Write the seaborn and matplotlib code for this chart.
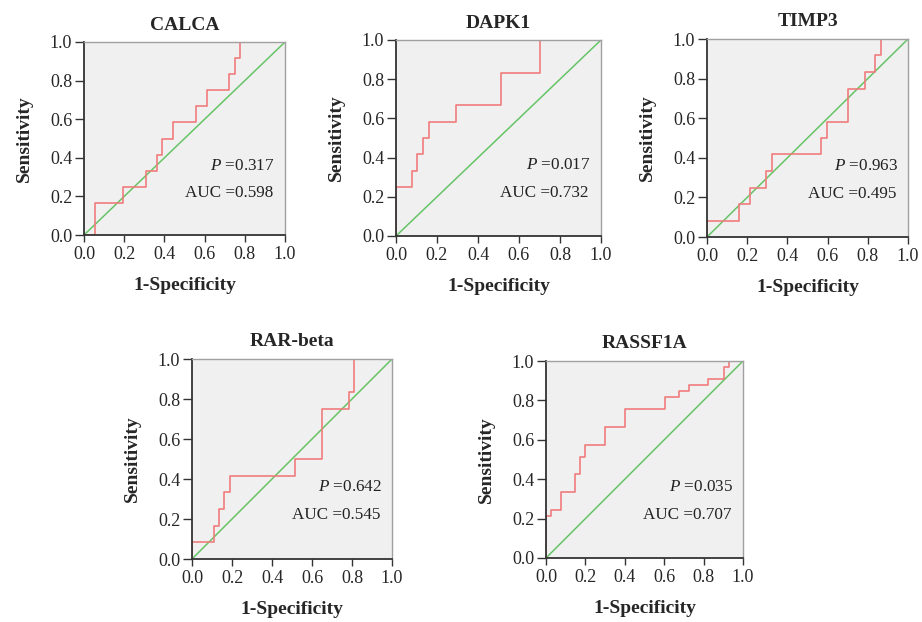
import matplotlib
matplotlib.use("Agg")
import matplotlib.pyplot as plt
import seaborn as sns

# ROC step points: x = 1-specificity where sensitivity jumps, y = sensitivity after the jump
genes = ["CALCA", "DAPK1", "TIMP3", "RAR-beta", "RASSF1A"]

calca_fpr = [0.0, 0.056, 0.194, 0.306, 0.361, 0.389, 0.444, 0.556, 0.611, 0.722, 0.750, 0.778, 1.0]
calca_tpr = [0.0, 0.167, 0.250, 0.333, 0.417, 0.500, 0.583, 0.667, 0.750, 0.833, 0.917, 1.000, 1.0]

dapk1_fpr = [0.0, 0.0, 0.078, 0.104, 0.134, 0.160, 0.295, 0.510, 0.703, 1.0]
dapk1_tpr = [0.0, 0.250, 0.333, 0.417, 0.500, 0.583, 0.667, 0.833, 1.000, 1.0]

timp3_fpr = [0.0, 0.0, 0.161, 0.216, 0.295, 0.323, 0.567, 0.595, 0.703, 0.784, 0.837, 0.866, 1.0]
timp3_tpr = [0.0, 0.083, 0.167, 0.250, 0.333, 0.417, 0.500, 0.583, 0.750, 0.833, 0.917, 1.000, 1.0]

rarb_fpr = [0.0, 0.0, 0.110, 0.135, 0.162, 0.190, 0.513, 0.648, 0.783, 0.812, 1.0]
rarb_tpr = [0.0, 0.083, 0.167, 0.250, 0.333, 0.417, 0.500, 0.750, 0.833, 1.000, 1.0]

rassf1a_fpr = [0.0, 0.0, 0.024, 0.075, 0.146, 0.171, 0.198, 0.298, 0.400, 0.602, 0.675,
               0.725, 0.824, 0.902, 0.927, 1.0]
rassf1a_tpr = [0.0, 0.212, 0.242, 0.333, 0.424, 0.515, 0.576, 0.667, 0.758, 0.818, 0.848,
               0.879, 0.909, 0.970, 1.000, 1.0]

p_values = ["0.317", "0.017", "0.963", "0.642", "0.035"]
auc_values = ["0.598", "0.732", "0.495", "0.545", "0.707"]

fprs = [calca_fpr, dapk1_fpr, timp3_fpr, rarb_fpr, rassf1a_fpr]
tprs = [calca_tpr, dapk1_tpr, timp3_tpr, rarb_tpr, rassf1a_tpr]

sns.set_style("ticks")
plt.rcParams["font.family"] = ["Liberation Serif", "DejaVu Serif"]
plt.rcParams["mathtext.fontset"] = "custom"
plt.rcParams["mathtext.it"] = "Liberation Serif:italic"
plt.rcParams["mathtext.rm"] = "Liberation Serif"

W, H = 922, 622
fig = plt.figure(figsize=(W / 100, H / 100), dpi=100)

# axes boxes in pixels: left, right, top, bottom
boxes = [(84, 285, 42, 235), (396, 601, 40, 236), (707, 908, 39, 237),
         (192, 392, 359, 559), (546, 743, 361, 558)]

ticks = [0.0, 0.2, 0.4, 0.6, 0.8, 1.0]

for i, gene in enumerate(genes):
    l, r, t, b = boxes[i]
    ax = fig.add_axes([l / W, (H - b) / H, (r - l) / W, (b - t) / H])
    ax.set_facecolor("#f0f0f0")

    sns.lineplot(x=[0, 1], y=[0, 1], ax=ax, color="#66c466", linewidth=1.1)
    sns.lineplot(x=fprs[i], y=tprs[i], ax=ax, color="#f07c7c", linewidth=1.2,
                 drawstyle="steps-post", estimator=None, sort=False)

    ax.set_xlim(0, 1)
    ax.set_ylim(0, 1)
    ax.set_xticks(ticks)
    ax.set_yticks(ticks)
    ax.set_xticklabels([f"{v:.1f}" for v in ticks], fontsize=13)
    ax.set_yticklabels([f"{v:.1f}" for v in ticks], fontsize=13)
    ax.tick_params(axis="x", direction="out", length=5, width=1, color="#333333", pad=3)
    ax.tick_params(axis="y", direction="out", length=6.5, width=1, color="#333333", pad=2)

    for side in ["left", "bottom"]:
        ax.spines[side].set_color("#333333")
        ax.spines[side].set_linewidth(1.3)
    for side in ["top", "right"]:
        ax.spines[side].set_color("#a0a0a0")
        ax.spines[side].set_linewidth(1.0)

    ax.set_title(gene, fontsize=14, fontweight="bold", pad=9)
    ax.set_xlabel("1-Specificity", fontsize=14, fontweight="bold", labelpad=10)
    ax.set_ylabel("Sensitivity", fontsize=14, fontweight="bold", labelpad=12)

    ax.text(0.95, 0.36, r"$\it{P}$ =" + p_values[i], transform=ax.transAxes,
            ha="right", va="center", fontsize=12.3, color="#222222")
    ax.text(0.94, 0.218, "AUC =" + auc_values[i], transform=ax.transAxes,
            ha="right", va="center", fontsize=12.3, color="#222222")

fig.savefig("out.png", dpi=100)
